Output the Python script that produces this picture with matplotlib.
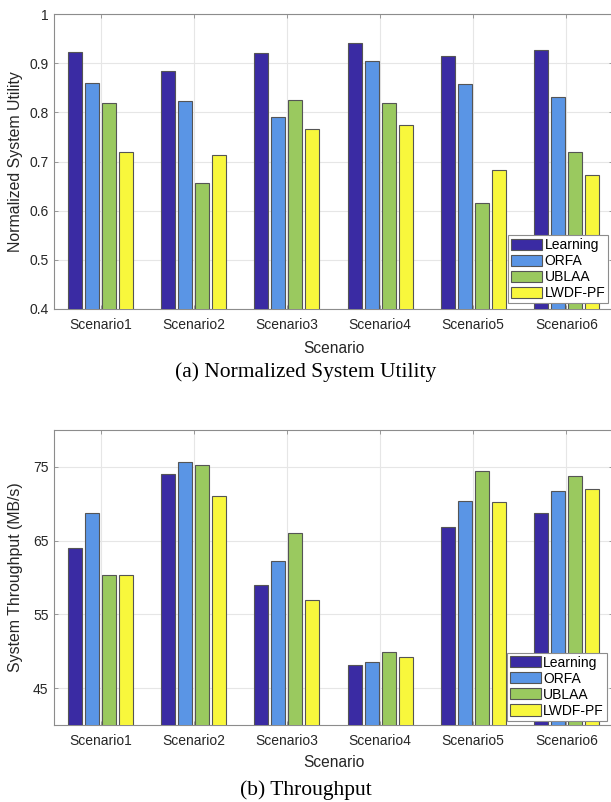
import numpy as np
import matplotlib
matplotlib.use("Agg")
import matplotlib.pyplot as plt

scenarios = ["Scenario1", "Scenario2", "Scenario3", "Scenario4", "Scenario5", "Scenario6"]
methods = ["Learning", "ORFA", "UBLAA", "LWDF-PF"]

utility_learning = [0.923, 0.885, 0.920, 0.942, 0.914, 0.927]
utility_orfa = [0.859, 0.824, 0.791, 0.904, 0.857, 0.831]
utility_ublaa = [0.820, 0.656, 0.825, 0.818, 0.616, 0.720]
utility_lwdf = [0.720, 0.713, 0.766, 0.774, 0.683, 0.672]

thr_learning = [64.0, 74.1, 59.0, 48.1, 66.9, 68.7]
thr_orfa = [68.7, 75.6, 62.3, 48.6, 70.4, 71.7]
thr_ublaa = [60.3, 75.2, 66.0, 49.9, 74.4, 73.7]
thr_lwdf = [60.3, 71.1, 57.0, 49.2, 70.3, 72.0]

colors = ["#3a2ba3", "#5a95e5", "#9ac95f", "#f8f73c"]

plt.rcParams["font.family"] = ["Liberation Sans", "DejaVu Sans"]

W, H = 611, 802
fig = plt.figure(figsize=(W / 100, H / 100), dpi=100)


def panel(ax, series, ylim, yticks, ylabel, legend_anchor, xlabel_y):
    x = np.arange(1, len(scenarios) + 1)
    width = 0.15
    step = 0.1826
    offsets = (np.arange(len(series)) - (len(series) - 1) / 2) * step
    for vals, off, col, name in zip(series, offsets, colors, methods):
        ax.bar(x + off, vals, width=width, color=col, edgecolor="#555555",
               linewidth=0.8, label=name, zorder=3)
    ax.set_xlim(0.5, 6.5)
    ax.set_ylim(*ylim)
    ax.set_xticks(x)
    ax.set_xticklabels(scenarios)
    ax.set_yticks(yticks)
    ax.grid(True, color="#e6e6e6", linewidth=0.8, zorder=0)
    ax.set_axisbelow(True)
    for s in ax.spines.values():
        s.set_color("#8c8c8c")
        s.set_linewidth(0.8)
    ax.tick_params(direction="in", length=3, width=0.6, color="#8c8c8c",
                   top=True, right=True, labelsize=10, labelcolor="#262626")
    ax.tick_params(axis="x", pad=6.5)
    ax.tick_params(axis="y", pad=4)
    ax.set_ylabel(ylabel, fontsize=11.4, color="#262626")
    ax.yaxis.set_label_coords(-0.0546, 0.5)
    ax.set_xlabel("Scenario", fontsize=11.2, color="#262626")
    ax.xaxis.set_label_coords(0.5, xlabel_y)
    leg = ax.legend(loc="lower right", bbox_to_anchor=legend_anchor,
                    borderaxespad=0, fontsize=10, fancybox=False,
                    framealpha=1, edgecolor="#8c8c8c", handlelength=2.2,
                    handleheight=0.85, labelspacing=0.15, borderpad=0.2,
                    handletextpad=0.2)
    leg.get_frame().set_linewidth(0.8)
    for t in leg.get_texts():
        t.set_color("#000000")


ax1 = fig.add_axes([54 / W, 1 - 309 / H, 559 / W, 295 / H])
panel(ax1, [utility_learning, utility_orfa, utility_ublaa, utility_lwdf],
      (0.4, 1.0), [0.4, 0.5, 0.6, 0.7, 0.8, 0.9, 1.0],
      "Normalized System Utility", (0.991, 0.02), -0.108)
ax1.set_yticklabels(["0.4", "0.5", "0.6", "0.7", "0.8", "0.9", "1"])

ax2 = fig.add_axes([54 / W, 1 - 725 / H, 559 / W, 295 / H])
panel(ax2, [thr_learning, thr_orfa, thr_ublaa, thr_lwdf],
      (40, 80), [45, 55, 65, 75],
      "System Throughput (MB/s)", (0.989, 0.015), -0.103)

fig.text(305.5 / W, 1 - 372 / H, "(a) Normalized System Utility",
         family="Liberation Serif", fontsize=15.5, ha="center", va="center")
fig.text(305.5 / W, 1 - 790 / H, "(b) Throughput",
         family="Liberation Serif", fontsize=15.5, ha="center", va="center")

fig.savefig("out.png", dpi=100)
